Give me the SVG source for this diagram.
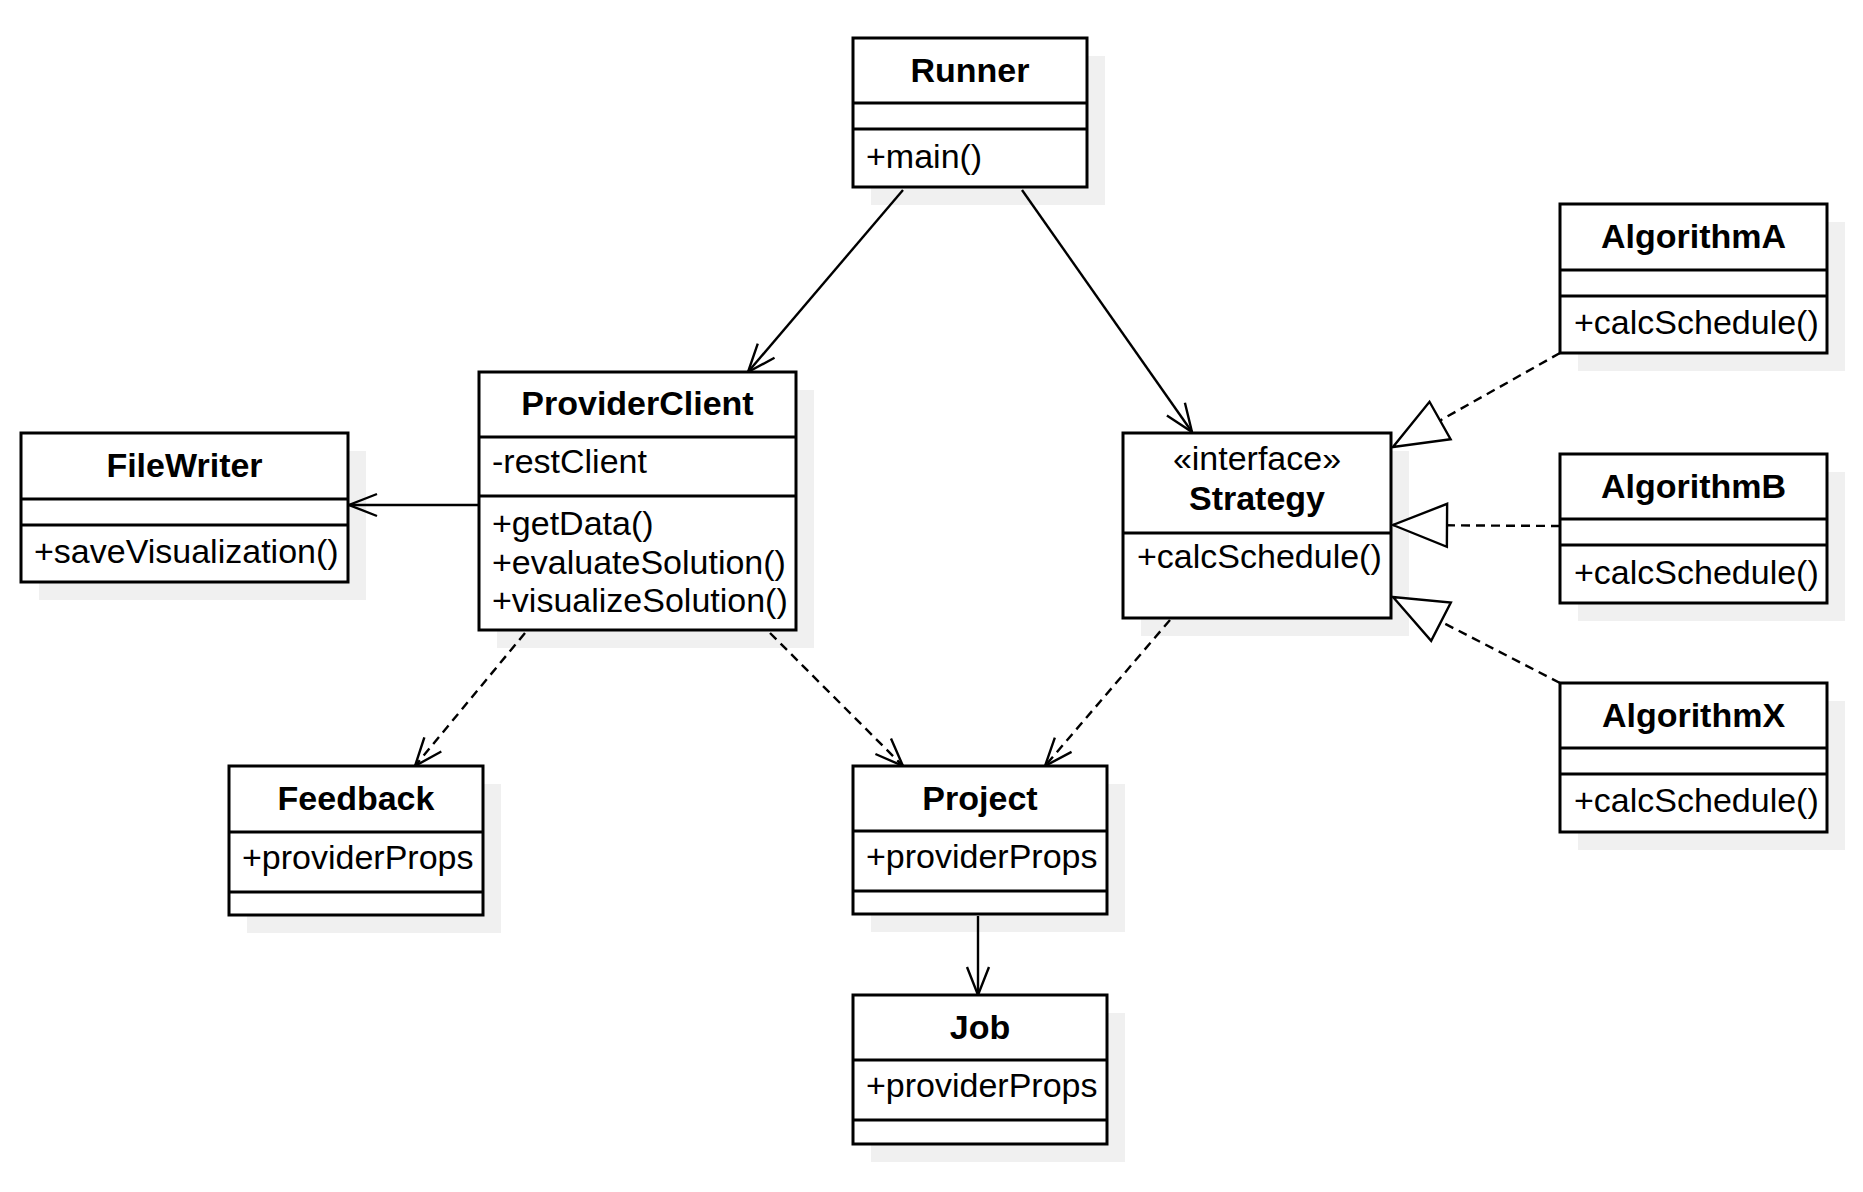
<svg xmlns="http://www.w3.org/2000/svg" width="1863" height="1192" viewBox="0 0 1863 1192">
  <style>
    .shadow { fill: #f0f0f0; stroke: none; }
    .box { fill: #ffffff; stroke: #000000; stroke-width: 3; }
    .sep { stroke: #000000; stroke-width: 3; }
    .title { font-family: "Liberation Sans", Arial, sans-serif; font-size: 34px; font-weight: bold; text-anchor: middle; fill: #000000; }
    .stereo { font-family: "Liberation Sans", Arial, sans-serif; font-size: 34px; text-anchor: middle; fill: #000000; }
    .member { font-family: "Liberation Sans", Arial, sans-serif; font-size: 34px; fill: #000000; }
    .edge { fill: none; stroke: #000000; stroke-width: 2.4; }
    .dashed { stroke-dasharray: 9 6; }
  </style>
  <defs>
    <marker id="openArrow" markerUnits="userSpaceOnUse" orient="auto" refX="0" refY="0" markerWidth="40" markerHeight="40" overflow="visible">
      <path d="M-28,-11 L0,0 L-28,11" fill="none" stroke="#000000" stroke-width="2.4"/>
    </marker>
    <marker id="realize" markerUnits="userSpaceOnUse" orient="auto" refX="0" refY="0" markerWidth="60" markerHeight="60" overflow="visible">
      <path d="M0,0 L-54,-21.5 L-54,21.5 Z" fill="#ffffff" stroke="#000000" stroke-width="2.4"/>
    </marker>
  </defs>

  <rect width="1863" height="1192" fill="#ffffff"/>

  <!-- drop shadows behind every class box -->
  <g id="shadows">
    <rect class="shadow" x="871" y="56" width="234" height="149"/>
    <rect class="shadow" x="497" y="390" width="317" height="258"/>
    <rect class="shadow" x="39" y="451" width="327" height="149"/>
    <rect class="shadow" x="1141" y="451" width="268" height="185"/>
    <rect class="shadow" x="1578" y="222" width="267" height="149"/>
    <rect class="shadow" x="1578" y="472" width="267" height="149"/>
    <rect class="shadow" x="1578" y="701" width="267" height="149"/>
    <rect class="shadow" x="247" y="784" width="254" height="149"/>
    <rect class="shadow" x="871" y="784" width="254" height="148"/>
    <rect class="shadow" x="871" y="1013" width="254" height="149"/>
  </g>

  <!-- associations, dependencies and realizations -->
  <g id="connectors">
    <path class="edge" d="M903,190 L748,372" marker-end="url(#openArrow)"/>
    <path class="edge" d="M1022,190 L1192,432" marker-end="url(#openArrow)"/>
    <path class="edge" d="M478,505 L349,505" marker-end="url(#openArrow)"/>
    <path class="edge dashed" d="M525,633 L415,766" marker-end="url(#openArrow)"/>
    <path class="edge dashed" d="M770,633 L903,766" marker-end="url(#openArrow)"/>
    <path class="edge dashed" d="M1170,620 L1045,766" marker-end="url(#openArrow)"/>
    <path class="edge" d="M978,916 L978,995" marker-end="url(#openArrow)"/>
    <path class="edge dashed" d="M1560,353 L1393,447" marker-end="url(#realize)"/>
    <path class="edge dashed" d="M1560,526 L1393,525" marker-end="url(#realize)"/>
    <path class="edge dashed" d="M1560,683 L1393,597" marker-end="url(#realize)"/>
  </g>

  <g id="Runner">
    <rect class="box" x="853" y="38" width="234" height="149"/>
    <line class="sep" x1="853" y1="103" x2="1087" y2="103"/>
    <line class="sep" x1="853" y1="129" x2="1087" y2="129"/>
    <text class="title" x="970" y="82">Runner</text>
    <text class="member" x="866" y="168">+main()</text>
  </g>

  <g id="ProviderClient">
    <rect class="box" x="479" y="372" width="317" height="258"/>
    <line class="sep" x1="479" y1="437" x2="796" y2="437"/>
    <line class="sep" x1="479" y1="496" x2="796" y2="496"/>
    <text class="title" x="637.5" y="415">ProviderClient</text>
    <text class="member" x="492" y="473">-restClient</text>
    <text class="member" x="492" y="535">+getData()</text>
    <text class="member" x="492" y="573.5">+evaluateSolution()</text>
    <text class="member" x="492" y="612">+visualizeSolution()</text>
  </g>

  <g id="FileWriter">
    <rect class="box" x="21" y="433" width="327" height="149"/>
    <line class="sep" x1="21" y1="499" x2="348" y2="499"/>
    <line class="sep" x1="21" y1="525" x2="348" y2="525"/>
    <text class="title" x="184.5" y="477">FileWriter</text>
    <text class="member" x="34" y="563">+saveVisualization()</text>
  </g>

  <g id="Strategy">
    <rect class="box" x="1123" y="433" width="268" height="185"/>
    <line class="sep" x1="1123" y1="533" x2="1391" y2="533"/>
    <text class="stereo" x="1257" y="470">«interface»</text>
    <text class="title" x="1257" y="510">Strategy</text>
    <text class="member" x="1137" y="568">+calcSchedule()</text>
  </g>

  <g id="AlgorithmA">
    <rect class="box" x="1560" y="204" width="267" height="149"/>
    <line class="sep" x1="1560" y1="270" x2="1827" y2="270"/>
    <line class="sep" x1="1560" y1="296" x2="1827" y2="296"/>
    <text class="title" x="1693.5" y="248">AlgorithmA</text>
    <text class="member" x="1574" y="334">+calcSchedule()</text>
  </g>

  <g id="AlgorithmB">
    <rect class="box" x="1560" y="454" width="267" height="149"/>
    <line class="sep" x1="1560" y1="519" x2="1827" y2="519"/>
    <line class="sep" x1="1560" y1="545" x2="1827" y2="545"/>
    <text class="title" x="1693.5" y="498">AlgorithmB</text>
    <text class="member" x="1574" y="584">+calcSchedule()</text>
  </g>

  <g id="AlgorithmX">
    <rect class="box" x="1560" y="683" width="267" height="149"/>
    <line class="sep" x1="1560" y1="748" x2="1827" y2="748"/>
    <line class="sep" x1="1560" y1="774" x2="1827" y2="774"/>
    <text class="title" x="1693.5" y="727">AlgorithmX</text>
    <text class="member" x="1574" y="812">+calcSchedule()</text>
  </g>

  <g id="Feedback">
    <rect class="box" x="229" y="766" width="254" height="149"/>
    <line class="sep" x1="229" y1="832" x2="483" y2="832"/>
    <line class="sep" x1="229" y1="892" x2="483" y2="892"/>
    <text class="title" x="356" y="810">Feedback</text>
    <text class="member" x="242" y="869">+providerProps</text>
  </g>

  <g id="Project">
    <rect class="box" x="853" y="766" width="254" height="148"/>
    <line class="sep" x1="853" y1="831" x2="1107" y2="831"/>
    <line class="sep" x1="853" y1="891" x2="1107" y2="891"/>
    <text class="title" x="980" y="810">Project</text>
    <text class="member" x="866" y="868">+providerProps</text>
  </g>

  <g id="Job">
    <rect class="box" x="853" y="995" width="254" height="149"/>
    <line class="sep" x1="853" y1="1060" x2="1107" y2="1060"/>
    <line class="sep" x1="853" y1="1120" x2="1107" y2="1120"/>
    <text class="title" x="980" y="1039">Job</text>
    <text class="member" x="866" y="1097">+providerProps</text>
  </g>
</svg>
